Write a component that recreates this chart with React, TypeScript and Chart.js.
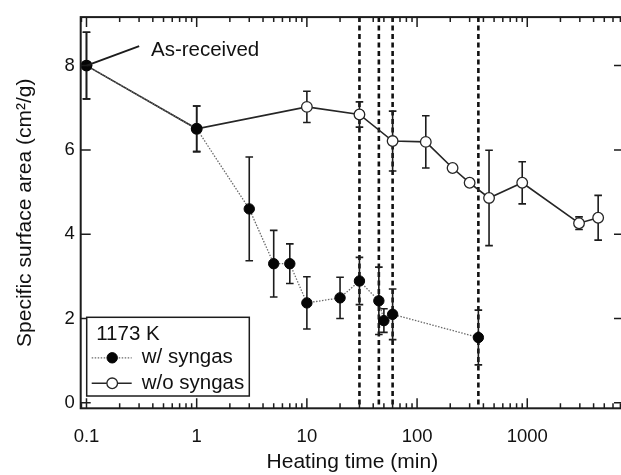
import React, { useEffect, useRef } from 'react';
import { Chart, registerables } from 'chart.js';

Chart.register(...registerables);

// ---- data ----
const withTime = [0.1, 1, 3, 5, 7, 10, 20, 30, 45, 50, 60, 360];
const withArea = [8.0, 6.5, 4.6, 3.3, 3.3, 2.37, 2.49, 2.89, 2.42, 1.95, 2.1, 1.55];
const withErr = [0.79, 0.54, 1.23, 0.79, 0.47, 0.62, 0.49, 0.56, 0.8, 0.28, 0.6, 0.65];

const withoutTime = [0.1, 1, 10, 30, 60, 120, 210, 300, 450, 900, 2950, 4400];
const withoutArea = [8.0, 6.5, 7.02, 6.84, 6.21, 6.19, 5.57, 5.22, 4.86, 5.22, 4.26, 4.39];
const withoutErr = [0.79, 0.54, 0.37, 0.3, 0.71, 0.62, 0, 0, 1.13, 0.5, 0.15, 0.53];

const markerTimes = [30, 45, 60, 360];
const xTickValues = [0.1, 1, 10, 100, 1000];
const yTickValues = [0, 2, 4, 6, 8];
const seriesNames = ['w/ syngas', 'w/o syngas'];
const legendTitle = '1173 K';
const annotationText = 'As-received';
const xTitle = 'Heating time (min)';
const yTitle = 'Specific surface area (cm\u00B2/g)';

const FONT = '"Liberation Sans", Arial, Helvetica, sans-serif';
const INK = '#111111';

const decorPlugin = {
  id: 'decor',
  beforeDatasetsDraw(chart: any) {
    const { ctx, chartArea: a, scales } = chart;
    const x = scales.x;
    const y = scales.y;
    ctx.save();
    // vertical dashed lines
    ctx.strokeStyle = '#111';
    ctx.lineWidth = 2.6;
    ctx.setLineDash([5, 3.5]);
    for (const t of markerTimes) {
      const px = x.getPixelForValue(t);
      ctx.beginPath();
      ctx.moveTo(px, a.top);
      ctx.lineTo(px, a.bottom);
      ctx.stroke();
    }
    ctx.setLineDash([]);
    // error bars
    ctx.strokeStyle = '#1c1c1c';
    ctx.lineWidth = 1.6;
    const drawErr = (ts: number[], vs: number[], es: number[]) => {
      ts.forEach((t, i) => {
        const e = es[i];
        if (!e) return;
        const px = x.getPixelForValue(t);
        const top = y.getPixelForValue(vs[i] + e);
        const bot = y.getPixelForValue(vs[i] - e);
        ctx.beginPath();
        ctx.moveTo(px, top);
        ctx.lineTo(px, bot);
        ctx.moveTo(px - 3.8, top);
        ctx.lineTo(px + 3.8, top);
        ctx.moveTo(px - 3.8, bot);
        ctx.lineTo(px + 3.8, bot);
        ctx.stroke();
      });
    };
    drawErr(withoutTime, withoutArea, withoutErr);
    drawErr(withTime, withArea, withErr);
    ctx.restore();
  },
  afterDraw(chart: any) {
    const { ctx, chartArea: a, scales } = chart;
    const x = scales.x;
    const y = scales.y;
    ctx.save();
    ctx.strokeStyle = '#1c1c1c';
    // frame
    ctx.lineWidth = 2;
    ctx.strokeRect(a.left, a.top, a.right - a.left, a.bottom - a.top);
    // x ticks (inward, top & bottom)
    ctx.lineWidth = 1.5;
    for (let d = -2; d <= 4; d++) {
      for (let m = 1; m <= 9; m++) {
        const v = m * Math.pow(10, d);
        if (v < x.min || v > x.max) continue;
        const px = x.getPixelForValue(v);
        const len = m === 1 ? 10 : 5;
        ctx.beginPath();
        ctx.moveTo(px, a.bottom);
        ctx.lineTo(px, a.bottom - len);
        ctx.moveTo(px, a.top);
        ctx.lineTo(px, a.top + len);
        ctx.stroke();
      }
    }
    // y ticks (inward, left & right)
    for (const v of yTickValues) {
      const py = y.getPixelForValue(v);
      ctx.beginPath();
      ctx.moveTo(a.left, py);
      ctx.lineTo(a.left + 10, py);
      ctx.moveTo(a.right, py);
      ctx.lineTo(a.right - 10, py);
      ctx.stroke();
    }
    // annotation
    const ax = x.getPixelForValue(withTime[0]);
    const ay = y.getPixelForValue(withArea[0]);
    ctx.lineWidth = 2;
    ctx.beginPath();
    ctx.moveTo(ax, ay);
    ctx.lineTo(ax + 52.7, ay - 19.4);
    ctx.stroke();
    ctx.fillStyle = INK;
    ctx.font = '20.5px ' + FONT;
    ctx.textBaseline = 'middle';
    ctx.textAlign = 'left';
    ctx.fillText(annotationText, ax + 64.5, ay - 15.5);

    // legend box
    const bx = 86.7, by = 317.3, bw = 162.6, bh = 78.7;
    ctx.fillStyle = '#ffffff';
    ctx.fillRect(bx, by, bw, bh);
    ctx.lineWidth = 1.5;
    ctx.strokeRect(bx, by, bw, bh);
    ctx.fillStyle = INK;
    ctx.fillText(legendTitle, bx + 9.5, by + 17);
    const rows = [by + 40.5, by + 66];
    chart.data.datasets.forEach((ds: any, i: number) => {
      const ry = rows[i];
      ctx.save();
      ctx.strokeStyle = ds.borderColor;
      ctx.lineWidth = ds.borderWidth;
      ctx.setLineDash(ds.borderDash || []);
      ctx.beginPath();
      ctx.moveTo(bx + 5, ry);
      ctx.lineTo(bx + 45, ry);
      ctx.stroke();
      ctx.setLineDash([]);
      ctx.beginPath();
      ctx.arc(bx + 25.5, ry, ds.pointRadius, 0, Math.PI * 2);
      ctx.fillStyle = ds.pointBackgroundColor;
      ctx.fill();
      ctx.lineWidth = ds.pointBorderWidth;
      ctx.strokeStyle = ds.pointBorderColor;
      ctx.stroke();
      ctx.restore();
      ctx.fillStyle = INK;
      ctx.fillText(ds.label, bx + 55, ry);
    });
    ctx.restore();
  },
};

export default function App() {
  const ref = useRef<HTMLCanvasElement | null>(null);
  useEffect(() => {
    if (!ref.current) return;
    Chart.defaults.font.family = FONT;
    const chart = new Chart(ref.current, {
      type: 'scatter',
      data: {
        datasets: [
          {
            label: seriesNames[0],
            data: withTime.map((t, i) => ({ x: t, y: withArea[i] })),
            showLine: true,
            borderColor: '#6a6a6a',
            borderWidth: 1.3,
            borderDash: [1.5, 1.5],
            pointRadius: 5.2,
            pointBackgroundColor: '#050505',
            pointBorderColor: '#050505',
            pointBorderWidth: 1,
          },
          {
            label: seriesNames[1],
            data: withoutTime.map((t, i) => ({ x: t, y: withoutArea[i] })),
            showLine: true,
            borderColor: '#262626',
            borderWidth: 1.6,
            pointRadius: 5.3,
            pointBackgroundColor: '#ffffff',
            pointBorderColor: '#262626',
            pointBorderWidth: 1.3,
          },
        ],
      },
      options: {
        responsive: false,
        animation: false,
        devicePixelRatio: 1,
        layout: { padding: { top: 13.3, right: 16, left: 0, bottom: 0 } },
        plugins: { legend: { display: false }, tooltip: { enabled: false } },
        scales: {
          x: {
            type: 'logarithmic',
            position: 'bottom',
            min: 0.0886,
            max: 7550,
            grid: { display: false, drawTicks: false },
            border: { display: false },
            ticks: {
              color: INK,
              font: { size: 18.5 },
              padding: 17.5,
              autoSkip: false,
              maxRotation: 0,
              callback: (v: any) => String(v),
            },
            afterBuildTicks: (s: any) => {
              s.ticks = xTickValues.map((v) => ({ value: v }));
            },
            afterFit: (s: any) => {
              s.height = 66.7;
            },
            title: {
              display: true,
              text: xTitle,
              color: INK,
              font: { size: 21 },
              padding: { top: 0, bottom: 0 },
            },
          },
          y: {
            type: 'linear',
            position: 'left',
            min: -0.13,
            max: 9.15,
            grid: { display: false, drawTicks: false },
            border: { display: false },
            ticks: { color: INK, font: { size: 18.5 }, padding: 6 },
            afterBuildTicks: (s: any) => {
              s.ticks = yTickValues.map((v) => ({ value: v }));
            },
            afterFit: (s: any) => {
              s.width = 80.7;
            },
            title: {
              display: true,
              text: yTitle,
              color: INK,
              font: { size: 21 },
              padding: { top: 13, bottom: 0 },
            },
          },
        },
      } as any,
      plugins: [decorPlugin],
    });
    return () => chart.destroy();
  }, []);
  return (
    <div style={{ position: 'absolute', left: 0, top: 0, width: 621, height: 475, overflow: 'hidden', background: '#fff' }}>
      <canvas ref={ref} width={640} height={475} style={{ display: 'block' }} />
    </div>
  );
}
